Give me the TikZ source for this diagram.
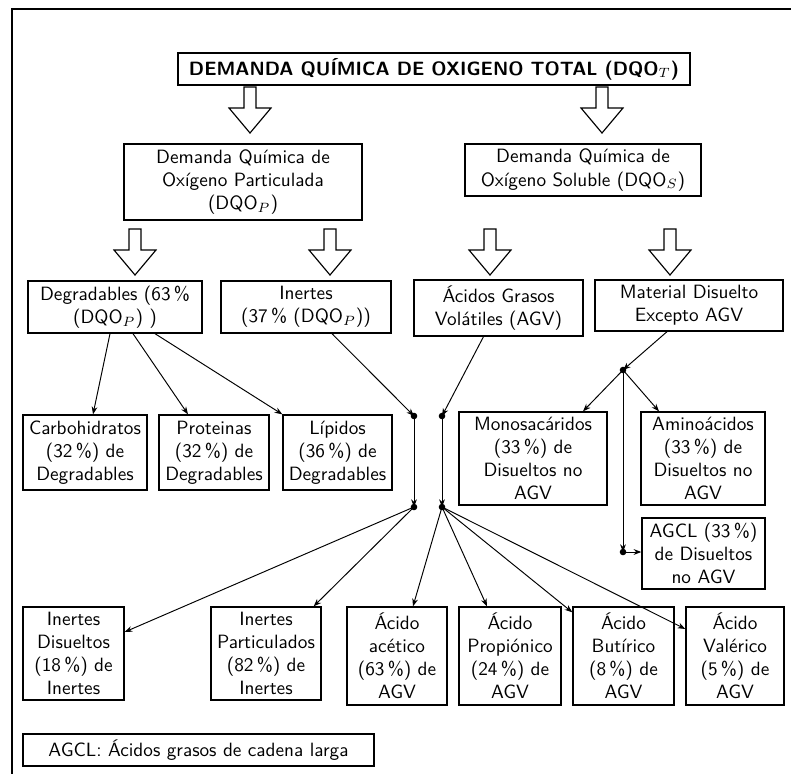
\documentclass[tikz,border=0pt]{standalone}
\usepackage{amsmath}
\usepackage{amssymb}
\usepackage{tikz}
\usetikzlibrary{arrows.meta,calc}

\newcommand{\hollowarrow}[2]{%
	\draw[line width=0.6pt] (#1,#2) ++(-6,0) -- ++(12,0) -- ++(0,21) -- ++(15,0) -- ++(-21,25) -- ++(-21,-25) -- ++(15,0) -- cycle;}

\tikzset{
	bx/.style 2 args={draw, line width=0.7pt, font=\sffamily, align=center, inner sep=1pt,
		minimum width=#1*0.52pt, minimum height=#2*0.52pt},
	con/.style={line width=0.5pt, -{Stealth[length=4pt,width=3pt]}},
	dot/.style={fill=black}
}

\begin{document}
\begin{tikzpicture}[x=0.52pt, y=-0.52pt]
	\useasboundingbox (0,0) rectangle (791,774);
% frame
	\draw[line width=0.8pt] (12,774) -- (12,9) -- (791,9);

% DQO total
	\node[bx={512}{32}, font=\sffamily\bfseries] (tot) at (434,69) {DEMANDA QUÍMICA DE OXIGENO TOTAL (DQO$_T$)};
	\hollowarrow{250}{87}
	\hollowarrow{602}{87}

	\node[bx={238}{76}] (dqop) at (243,182) {Demanda Química de\\Oxígeno Particulada\\(DQO$_P$)};
	\node[bx={236}{52}] (dqos) at (583,170) {Demanda Química de\\Oxígeno Soluble (DQO$_S$)};
	\hollowarrow{135}{229}
	\hollowarrow{330}{229}
	\hollowarrow{490}{229}
	\hollowarrow{670}{229}

% second level
	\node[bx={174}{52}] (degr) at (115,307) {Degradables (63\,\%\\(DQO$_P$) )};
	\node[bx={170}{52}] (inert) at (306,307) {Inertes\\(37\,\% (DQO$_P$))};
	\node[bx={169}{56}] (agv) at (498.5,308) {Ácidos Grasos\\Volátiles (AGV)};
	\node[bx={188}{51}] (mat) at (689,305.5) {Material Disuelto\\Excepto AGV};

% degradables
	\node[bx={124}{75}] (carb) at (85,452.5) {Carbohidratos\\(32\,\%) de\\Degradables};
	\node[bx={110}{75}] (prot) at (214,452.5) {Proteinas\\(32\,\%) de\\Degradables};
	\node[bx={109}{75}] (lip) at (337.5,452.5) {Lípidos\\(36\,\%) de\\Degradables};
	\draw[con] ($(degr.south)+(-5,0)$) -- ($(carb.north)+(8,0)$);
	\draw[con] ($(degr.south)+(18,0)$) -- ($(prot.north)+(-26,0)$);
	\draw[con] ($(degr.south)+(40,0)$) -- (lip.north west);

% disueltos no AGV
	\node[bx={148}{93}] (mono) at (533,458.5) {Monosacáridos\\(33\,\%) de\\Disueltos no\\AGV};
	\node[bx={124}{93}] (amino) at (703,458.5) {Aminoácidos\\(33\,\%) de\\Disueltos no\\AGV};
	\node[bx={123}{71}] (agcl) at (703.5,553.5) {AGCL (33\,\%)\\de Disueltos\\no AGV};
	\coordinate (d5) at (623,370);
	\coordinate (d6) at (623,552);
	\draw[con] ($(mat.south)+(-22,0)$) -- (d5);
	\draw[con] (d5) -- ($(mono.north)+(50,0)$);
	\draw[con] (d5) -- ($(amino.north)+(-44,0)$);
	\draw[con] (d5) -- (d6);
	\draw[con] (d6) -- (agcl.west |- d6);

% inertes y AGV
	\coordinate (d1) at (414,416);
	\coordinate (d2) at (442,416);
	\coordinate (d3) at (414,507);
	\coordinate (d4) at (442,507);
	\draw[con] ($(inert.south)+(26,0)$) -- (d1);
	\draw[con] ($(agv.south)+(-15,0)$) -- (d2);
	\draw[con] (d1) -- (d3);
	\draw[con] (d2) -- (d4);

	\node[bx={101}{93}] (idis) at (73.5,653.5) {Inertes\\Disueltos\\(18\,\%) de\\Inertes};
	\node[bx={110}{93}] (ipar) at (266,653.5) {Inertes\\Particulados\\(82\,\%) de\\Inertes};
	\node[bx={100}{98}] (acet) at (397,656) {Ácido\\acético\\(63\,\%) de\\AGV};
	\node[bx={102}{98}] (prop) at (510,656) {Ácido\\Propiónico\\(24\,\%) de\\AGV};
	\node[bx={101}{98}] (buti) at (623.5,656) {Ácido\\Butírico\\(8\,\%) de\\AGV};
	\node[bx={98}{98}] (vale) at (735,656) {Ácido\\Valérico\\(5\,\%) de\\AGV};
	\draw[con] (d3) -- ($(idis.east)+(0,-21.5)$);
	\draw[con] (d3) -- ($(ipar.north east)+(-8,0)$);
	\draw[con] (d4) -- ($(acet.north)+(16,0)$);
	\draw[con] (d4) -- ($(prop.north)+(-23,0)$);
	\draw[con] (d4) -- ($(buti.north west)+(0,6)$);
	\draw[con] (d4) -- ($(vale.west)+(0,-27)$);

% junction dots
	\foreach \p in {d1,d2,d3,d4,d5,d6}
		\fill[dot] (\p) circle (1.7pt);

% legend
	\node[bx={351}{32}] (leg) at (198.5,750) {AGCL: Ácidos grasos de cadena larga};
\end{tikzpicture}
\end{document}
